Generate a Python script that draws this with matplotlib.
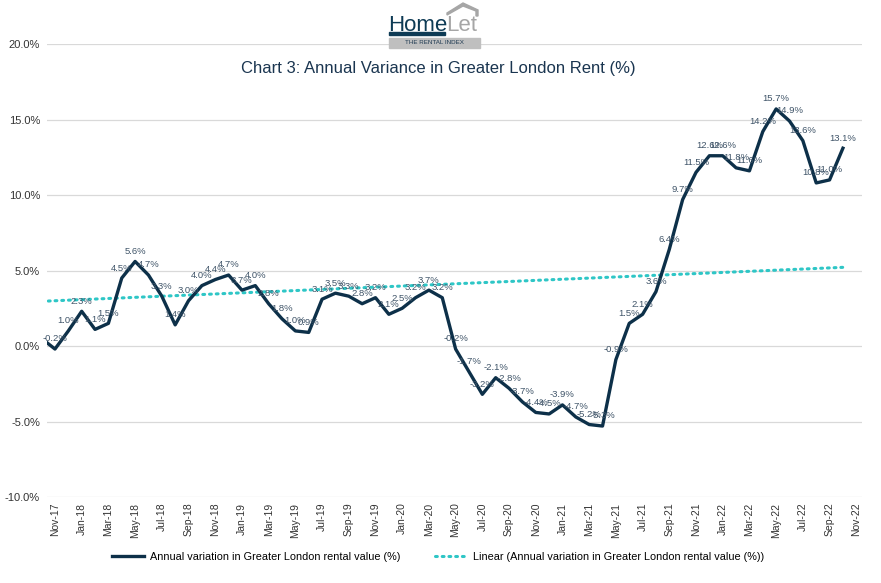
import matplotlib
matplotlib.use("Agg")
import matplotlib.pyplot as plt
from matplotlib.patches import Rectangle, Polygon
from matplotlib.lines import Line2D
import numpy as np
import pandas as pd

plt.rcParams['font.family'] = ['Liberation Sans', 'DejaVu Sans']

# monthly series, Oct-17 .. Oct-22 (Oct-17 sits just left of the axis and is clipped)
months = pd.date_range("2017-10-01", "2022-10-01", freq="MS")
variation = [0.5,
             -0.2, 1.0, 2.3, 1.1, 1.5, 4.5, 5.6, 4.7, 3.3, 1.4, 3.0, 4.0,
             4.4, 4.7, 3.7, 4.0, 2.8, 1.8, 1.0, 0.9, 3.1, 3.5, 3.3, 2.8,
             3.2, 2.1, 2.5, 3.2, 3.7, 3.2, -0.2, -1.7, -3.2, -2.1, -2.8, -3.7,
             -4.4, -4.5, -3.9, -4.7, -5.2, -5.3, -0.9, 1.5, 2.1, 3.6, 6.4, 9.7,
             11.5, 12.6, 12.6, 11.8, 11.6, 14.2, 15.7, 14.9, 13.6, 10.8, 11.0, 13.1]
# Excel linear trendline (fitted on the longer history), read at Oct-17 and Oct-22
trend_ends = [2.96, 5.21]
tick_months = pd.date_range("2017-11-01", "2022-11-01", freq="2MS")
tick_labels = [m.strftime("%b-%y") for m in tick_months]
yticks = [-10, -5, 0, 5, 10, 15, 20]

navy = "#0D3049"
teal = "#2EC6C6"
label_col = "#3F5468"
grid_col = "#D9D9D9"

x = np.arange(len(months)) - 1          # Nov-17 -> 0
y = np.array(variation)
tick_x = np.arange(len(tick_months)) * 2

fig = plt.figure(figsize=(8.81, 5.83), dpi=100)
ax = fig.add_axes([0.0533, 0.1475, 0.9247, 0.777])

ax.plot([x[0], x[-1]], trend_ends, color=teal, linestyle=(0, (0.6, 1.6)),
        linewidth=2.2, dash_capstyle="round", zorder=2)
ax.plot(x, y, color=navy, linewidth=2.4, solid_joinstyle="round", zorder=3)

for xi, yi in zip(x[1:], y[1:]):
    ax.annotate(f"{yi:.1f}%", (xi, yi), xytext=(0, 4), textcoords="offset points",
                ha="center", va="bottom", fontsize=6.8, color=label_col, zorder=4)

ax.set_xlim(-0.6, 60.4)
ax.set_ylim(-10, 20)
ax.set_yticks(yticks)
ax.set_yticklabels([f"{v:.1f}%" for v in yticks], fontsize=8, color="#333333")
ax.set_xticks(tick_x)
ax.set_xticklabels(tick_labels, rotation=90, fontsize=7.5, color="#333333")
ax.tick_params(length=0, pad=4)
ax.tick_params(axis="y", pad=5)
ax.grid(axis="y", color=grid_col, linewidth=0.9)
ax.set_axisbelow(True)
for s in ax.spines.values():
    s.set_visible(False)

fig.text(0.497, 0.882, "Chart 3: Annual Variance in Greater London Rent (%)",
         ha="center", va="center", fontsize=12, color="#1A3550")

# HomeLet logo
fig.patches.append(Rectangle((389 / 881, 1 - 48 / 583), 91 / 881, 10 / 583,
                             transform=fig.transFigure, color="#BFBFBF", zorder=5))
fig.text(434 / 881, 1 - 43 / 583, "THE RENTAL INDEX", ha="center", va="center",
         fontsize=4.5, color="#1F3A52", zorder=6)
fig.patches.append(Rectangle((389 / 881, 1 - 35 / 583), 56 / 881, 2.5 / 583,
                             transform=fig.transFigure, color="#0E3B55", zorder=5))
fig.text(388 / 881, 1 - 31 / 583, "Home", ha="left", va="baseline",
         fontsize=16, color="#0E3B55", zorder=6)
fig.text(446 / 881, 1 - 31 / 583, "Let", ha="left", va="baseline",
         fontsize=16, color="#A6A6A6", zorder=6)
roof = [(447, 13), (463, 3), (478, 10), (478, 16), (476, 16), (476, 11),
        (463, 6), (447, 15)]
fig.patches.append(Polygon([(px / 881, 1 - py / 583) for px, py in roof],
                           closed=True, transform=fig.transFigure, color="#A6A6A6"))

handles = [Line2D([], [], color=navy, linewidth=2.4),
           Line2D([], [], color=teal, linestyle=(0, (0.6, 1.6)), linewidth=2.2,
                  dash_capstyle="round")]
names = ["Annual variation in Greater London rental value (%)",
         "Linear (Annual variation in Greater London rental value (%))"]
fig.legend(handles, names, loc="center", bbox_to_anchor=(0.497, 0.045), ncol=2,
           frameon=False, fontsize=7.8, handlelength=3.0, columnspacing=3.2,
           handletextpad=0.5)

fig.savefig("out.png", dpi=100)
